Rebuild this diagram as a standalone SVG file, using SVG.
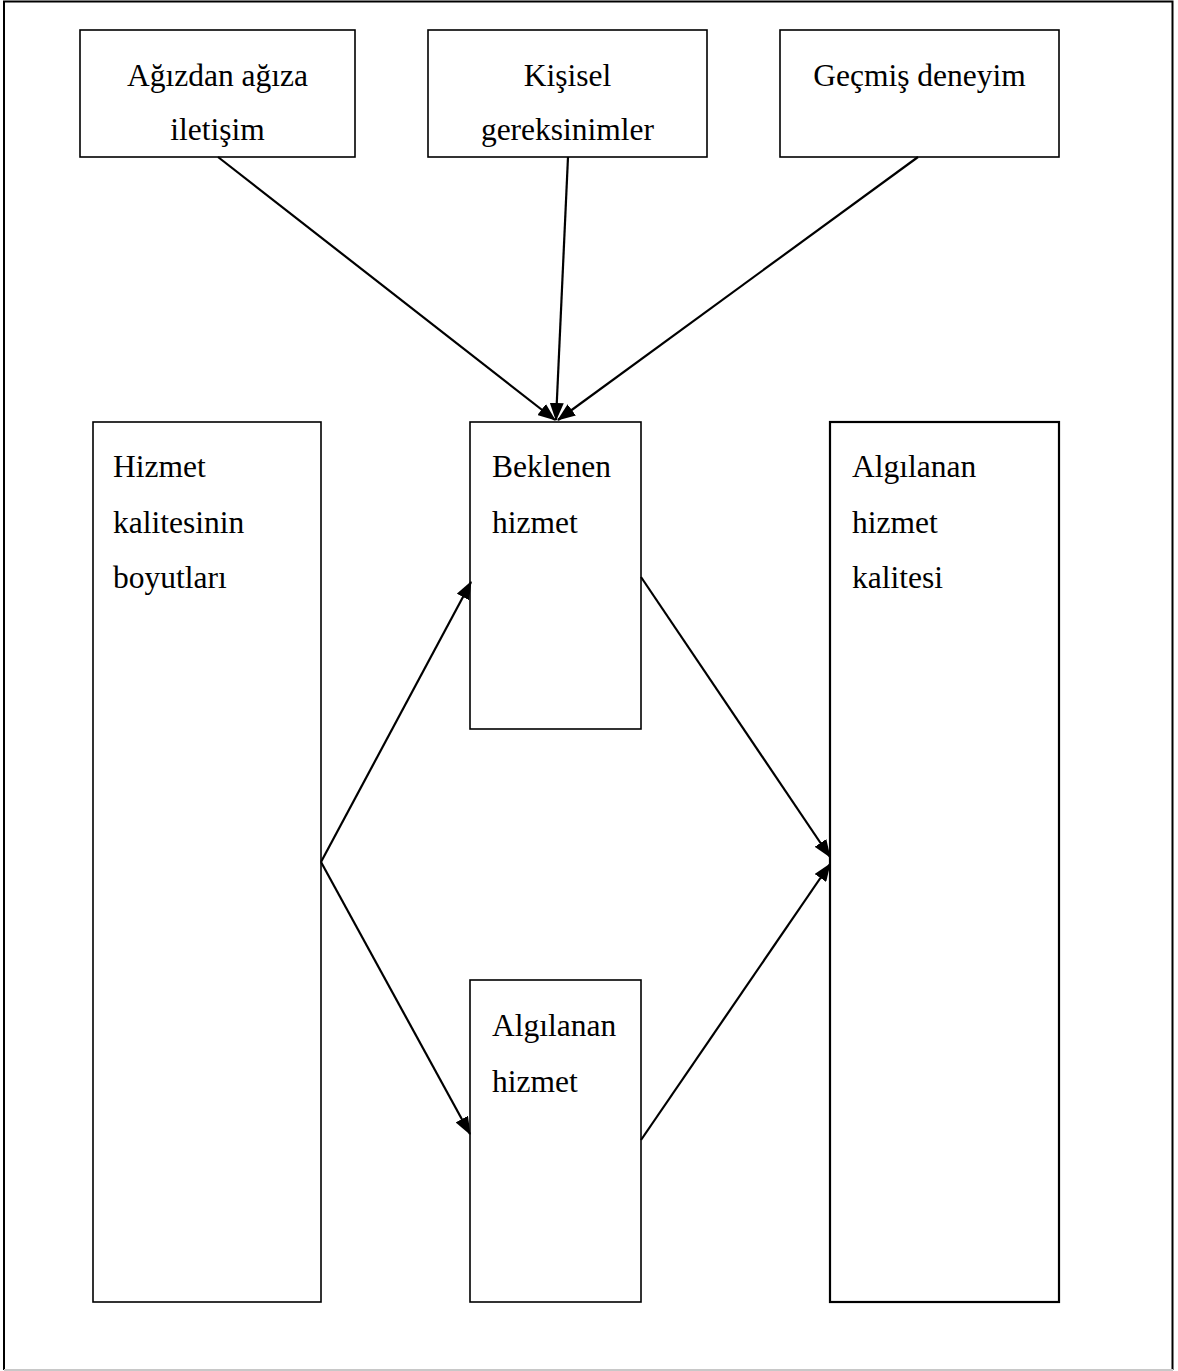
<svg xmlns="http://www.w3.org/2000/svg" width="1178" height="1371" viewBox="0 0 1178 1371">
  <style>
    .box { fill: #ffffff; stroke: #000000; stroke-width: 1.6; }
    .lbl { font-family: "Liberation Serif", "Times New Roman", serif; font-size: 31.5px; fill: #000000; }
    .mid { text-anchor: middle; }
    .link { fill: none; stroke: #000000; stroke-width: 2.2; marker-end: url(#head); }
  </style>
  <defs>
    <marker id="head" markerUnits="userSpaceOnUse" markerWidth="18" markerHeight="14" viewBox="0 0 18 14" refX="17" refY="7" orient="auto">
      <path d="M0,0 L18,7 L0,14 Z" fill="#000000"/>
    </marker>
  </defs>

  <!-- page frame -->
  <rect x="0" y="0" width="1178" height="1371" fill="#ffffff"/>
  <path d="M4,1370 L4,1.5 L1172.5,1.5 L1172.5,1370" fill="none" stroke="#000000" stroke-width="2"/>
  <line x1="4" y1="1370" x2="1173" y2="1370" stroke="#c8c8c8" stroke-width="2"/>

  <!-- antecedents -->
  <g id="node-agizdan">
    <rect class="box" x="80" y="30" width="275" height="127"/>
    <text class="lbl mid" x="217.5" y="86">Ağızdan ağıza</text>
    <text class="lbl mid" x="217.5" y="140">iletişim</text>
  </g>
  <g id="node-kisisel">
    <rect class="box" x="428" y="30" width="279" height="127"/>
    <text class="lbl mid" x="567.5" y="86">Kişisel</text>
    <text class="lbl mid" x="567.5" y="140">gereksinimler</text>
  </g>
  <g id="node-gecmis">
    <rect class="box" x="780" y="30" width="279" height="127"/>
    <text class="lbl mid" x="919.5" y="86">Geçmiş deneyim</text>
  </g>

  <!-- main columns -->
  <g id="node-boyutlar">
    <rect class="box" x="93" y="422" width="228" height="880"/>
    <text class="lbl" x="113" y="477">Hizmet</text>
    <text class="lbl" x="113" y="533">kalitesinin</text>
    <text class="lbl" x="113" y="588">boyutları</text>
  </g>
  <g id="node-beklenen">
    <rect class="box" x="470" y="422" width="171" height="307"/>
    <text class="lbl" x="492" y="477">Beklenen</text>
    <text class="lbl" x="492" y="533">hizmet</text>
  </g>
  <g id="node-algilanan">
    <rect class="box" x="470" y="980" width="171" height="322"/>
    <text class="lbl" x="492" y="1036">Algılanan</text>
    <text class="lbl" x="492" y="1092">hizmet</text>
  </g>
  <g id="node-kalite">
    <rect class="box" x="830" y="422" width="229" height="880" style="stroke-width:2.2"/>
    <text class="lbl" x="852" y="477">Algılanan</text>
    <text class="lbl" x="852" y="533">hizmet</text>
    <text class="lbl" x="852" y="588">kalitesi</text>
  </g>

  <!-- connectors -->
  <g id="connectors">
    <line class="link" x1="218" y1="157" x2="555" y2="420"/>
    <line class="link" x1="568" y1="157" x2="556" y2="420"/>
    <line class="link" x1="918" y1="157" x2="558" y2="420"/>
    <line class="link" x1="321" y1="862" x2="471" y2="582"/>
    <line class="link" x1="321" y1="862" x2="470" y2="1134"/>
    <line class="link" x1="641" y1="577" x2="830" y2="857"/>
    <line class="link" x1="641" y1="1140" x2="830" y2="864"/>
  </g>
</svg>
